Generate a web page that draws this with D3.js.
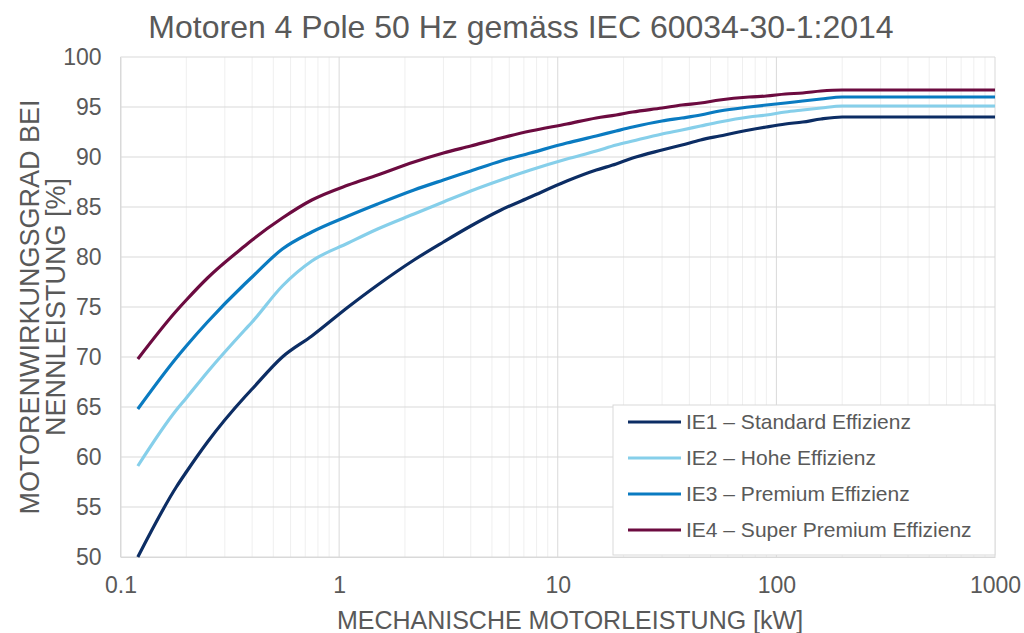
<!DOCTYPE html>
<html>
<head>
<meta charset="utf-8">
<script src="https://cdn.jsdelivr.net/npm/d3@7"></script>
<style>
  body { margin: 0; background: #fff; }
  text { font-family: "Liberation Sans", Arial, sans-serif; fill: #595959; }
</style>
</head>
<body>
<div id="graph"></div>
<script>
/* Data (IEC 60034-30-1 4-pole 50 Hz) */
const power = [0.12, 0.18, 0.2, 0.25, 0.37, 0.4, 0.55, 0.75, 1.1, 1.5, 2.2, 3, 4, 5.5, 7.5, 11, 15, 18.5, 22, 30, 37, 45, 55, 75, 90, 110, 132, 160, 200, 250, 1000];
const ie1 = [50.0, 57.0, 58.5, 61.5, 66.0, 66.8, 70.0, 72.1, 75.0, 77.2, 79.7, 81.5, 83.1, 84.7, 86.0, 87.6, 88.7, 89.3, 89.9, 90.7, 91.2, 91.7, 92.1, 92.7, 93.0, 93.3, 93.5, 93.8, 94.0, 94.0, 94.0];
const ie2 = [59.1, 64.7, 65.9, 68.5, 72.7, 73.5, 77.1, 79.6, 81.4, 82.8, 84.3, 85.5, 86.6, 87.7, 88.7, 89.8, 90.6, 91.2, 91.6, 92.3, 92.7, 93.1, 93.5, 94.0, 94.2, 94.5, 94.7, 94.9, 95.1, 95.1, 95.1];
const ie3 = [64.8, 69.9, 71.1, 73.5, 77.3, 78.0, 80.8, 82.5, 84.1, 85.3, 86.7, 87.7, 88.6, 89.6, 90.4, 91.4, 92.1, 92.6, 93.0, 93.6, 93.9, 94.2, 94.6, 95.0, 95.2, 95.4, 95.6, 95.8, 96.0, 96.0, 96.0];
const ie4 = [69.8, 74.6, 75.7, 77.9, 81.1, 81.7, 83.9, 85.7, 87.2, 88.2, 89.5, 90.4, 91.1, 91.9, 92.6, 93.3, 93.9, 94.2, 94.5, 94.9, 95.2, 95.4, 95.7, 96.0, 96.1, 96.3, 96.4, 96.6, 96.7, 96.7, 96.7];
const seriesNames = ["IE1 – Standard Effizienz", "IE2 – Hohe Effizienz", "IE3 – Premium Effizienz", "IE4 – Super Premium Effizienz"];
const seriesColors = ["#0c2d64", "#86cfea", "#0a7bc1", "#6c0b40"];
const xTicks = [0.1, 1, 10, 100, 1000];
const yTicks = [50, 55, 60, 65, 70, 75, 80, 85, 90, 95, 100];

const W = 1024, H = 633;
const L = 120.5, R = 995, T = 57, B = 557;

const svg = d3.select("#graph").append("svg").attr("width", W).attr("height", H);

const x = d3.scaleLog().domain([0.1, 1000]).range([L, R]);
const y = d3.scaleLinear().domain([50, 100]).range([B, T]);

/* minor vertical grid */
const minor = [];
for (let d = 0.1; d < 1000; d *= 10) {
    for (let k = 2; k <= 9; k++) minor.push(d * k);
}
svg.append("g").selectAll("line").data(minor).enter().append("line")
    .attr("x1", d => x(d)).attr("x2", d => x(d))
    .attr("y1", T).attr("y2", B)
    .attr("stroke", "#efefef").attr("stroke-width", 1);

/* major grid */
svg.append("g").selectAll("line").data(xTicks).enter().append("line")
    .attr("x1", d => x(d)).attr("x2", d => x(d))
    .attr("y1", T).attr("y2", B)
    .attr("stroke", "#d9d9d9").attr("stroke-width", 1);
svg.append("g").selectAll("line").data(yTicks).enter().append("line")
    .attr("x1", L).attr("x2", R)
    .attr("y1", d => y(d)).attr("y2", d => y(d))
    .attr("stroke", "#d9d9d9").attr("stroke-width", 1);

/* axes labels */
const xAxis = d3.axisBottom(x).tickValues(xTicks).tickFormat(d => String(d)).tickSize(0).tickPadding(20);
const gx = svg.append("g").attr("transform", "translate(0," + B + ")").call(xAxis);
gx.select(".domain").attr("stroke", "#d9d9d9");
gx.selectAll("text").style("font-size", "23px").attr("fill", "#595959");

const yAxis = d3.axisLeft(y).tickValues(yTicks).tickSize(0).tickPadding(19);
const gy = svg.append("g").attr("transform", "translate(" + L + ",0)").call(yAxis);
gy.select(".domain").attr("stroke", "#d9d9d9");
gy.selectAll("text").style("font-size", "23px").attr("fill", "#595959");

/* lines */
const allSeries = [ie1, ie2, ie3, ie4];
const line = d3.line()
    .x((d, i) => x(power[i]))
    .y(d => y(d))
    .curve(d3.curveMonotoneX);

svg.append("g").selectAll("path").data(allSeries).enter().append("path")
    .attr("d", d => line(d))
    .attr("fill", "none")
    .attr("stroke", (d, i) => seriesColors[i])
    .attr("stroke-width", 3.2)
    .attr("stroke-linejoin", "round");

/* legend */
const lg = svg.append("g").attr("id", "legend");
lg.append("rect")
    .attr("x", 613).attr("y", 405).attr("width", 382).attr("height", 150)
    .attr("fill", "#fff").attr("stroke", "#d9d9d9");
const items = lg.selectAll(".legend-label").data(seriesNames).enter().append("g")
    .attr("transform", (d, i) => "translate(628," + (422 + i * 36) + ")");
items.append("line")
    .attr("x1", 0).attr("x2", 53).attr("y1", 0).attr("y2", 0)
    .attr("stroke", (d, i) => seriesColors[i]).attr("stroke-width", 3.2);
items.append("text")
    .attr("x", 58).attr("dy", "0.35em")
    .style("font-size", "21px")
    .text(d => d);

/* titles */
svg.append("text")
    .attr("x", 521).attr("y", 38)
    .attr("text-anchor", "middle")
    .style("font-size", "32px")
    .text("Motoren 4 Pole 50 Hz gemäss IEC 60034-30-1:2014");

svg.append("text")
    .attr("x", 570).attr("y", 629)
    .attr("text-anchor", "middle")
    .style("font-size", "25px")
    .text("MECHANISCHE MOTORLEISTUNG [kW]");

const yt = svg.append("text")
    .attr("transform", "translate(0,307) rotate(-90)")
    .attr("text-anchor", "middle")
    .style("font-size", "27px");
yt.append("tspan").attr("x", 0).attr("y", 39).text("MOTORENWIRKUNGSGRAD BEI");
yt.append("tspan").attr("x", 0).attr("y", 65).text("NENNLEISTUNG [%]");
</script>
</body>
</html>
